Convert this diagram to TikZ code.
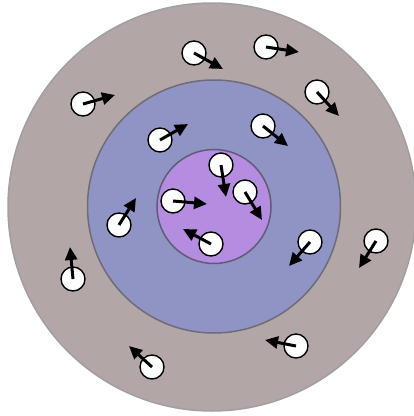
\documentclass[tikz,border=0pt]{standalone}
\usetikzlibrary{arrows.meta}
\definecolor{outerfill}{RGB}{178,166,166}
\definecolor{outerdraw}{RGB}{160,160,160}
\definecolor{midfill}{RGB}{144,148,196}
\definecolor{middraw}{RGB}{110,108,120}
\definecolor{innerfill}{RGB}{180,140,224}
\definecolor{innerdraw}{RGB}{96,92,116}
\tikzset{
  particle/.style={circle,draw=black,fill=white,line width=1.4pt,minimum size=24pt,inner sep=0pt},
  spin/.style={line width=3pt,-{Triangle[length=13pt,width=12pt]}},
}
\begin{document}
\begin{tikzpicture}[x=1pt,y=-1pt]
\useasboundingbox (0,0) rectangle (414,416);
\node[circle,fill=outerfill,draw=outerdraw,line width=1.5pt,minimum size=408pt,inner sep=0pt] (outer) at (212,207) {};
\node[circle,fill=midfill,draw=middraw,line width=1.5pt,minimum size=253pt,inner sep=0pt] (middle) at (214,206.5) {};
\node[circle,fill=innerfill,draw=innerdraw,line width=1.5pt,minimum size=114pt,inner sep=0pt] (inner) at (214,206.5) {};
\foreach \i/\cx/\cy/\tx/\ty in {
 1/83/104/115/95,
 2/194/53/223/69,
 3/160/140/188/124,
 4/266/47/299/52,
 5/317/92/339/116,
 6/263/126/288/146,
 7/221/165/226/197,
 8/245/192/262/220,
 9/173/201/207/204,
 10/211/244/183/229,
 11/119/225/136/198,
 12/73/279/70/247,
 13/152/367/129/346,
 14/310/242/289/266,
 15/376/241/359/268,
 16/296/346/265/340}{
  \node[particle] (p\i) at (\cx,\cy) {};
  \coordinate (t\i) at (\tx,\ty);
  \draw[spin] (p\i.center) -- (t\i);
}
\end{tikzpicture}
\end{document}
